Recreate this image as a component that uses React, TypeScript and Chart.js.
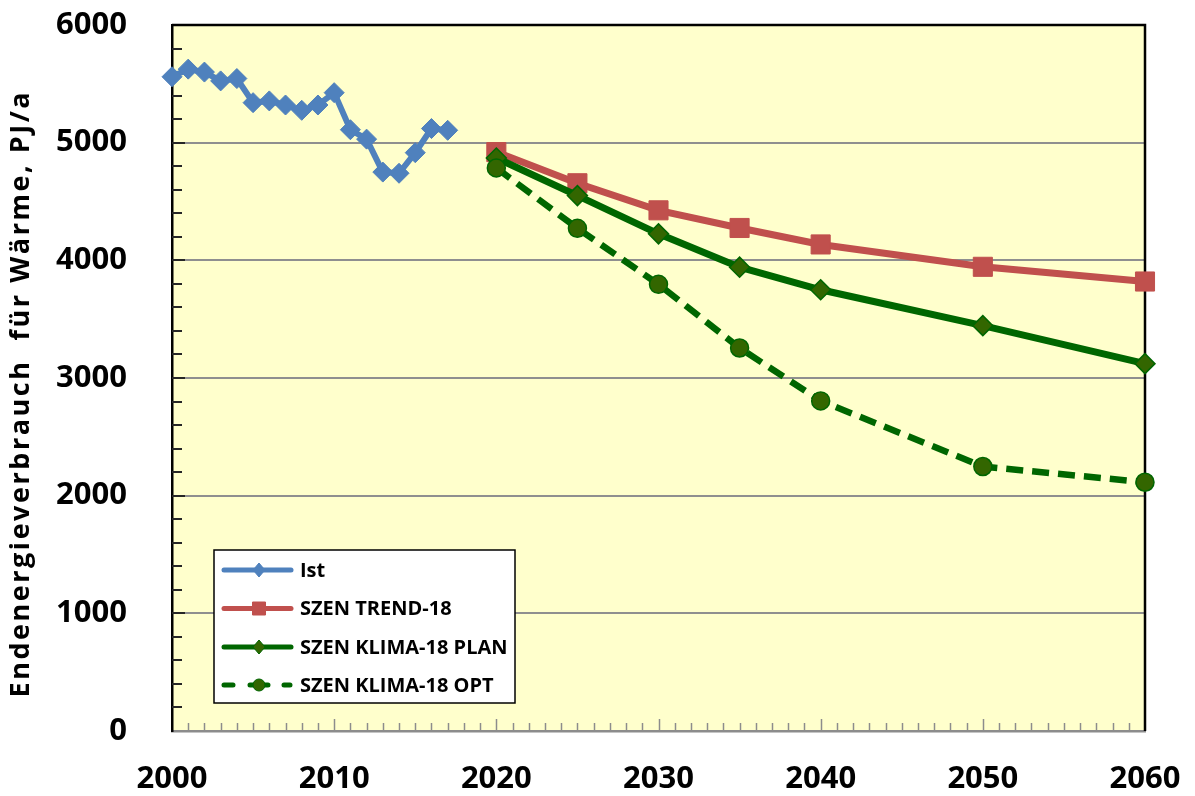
import React, { useEffect, useRef } from 'react';
import { Chart, registerables } from 'chart.js';

Chart.register(...registerables);

// ---------- data ----------
const istYears = [2000, 2001, 2002, 2003, 2004, 2005, 2006, 2007, 2008, 2009, 2010, 2011, 2012, 2013, 2014, 2015, 2016, 2017];
const istValues = [5560, 5625, 5600, 5525, 5545, 5340, 5355, 5320, 5275, 5320, 5425, 5110, 5030, 4750, 4740, 4915, 5120, 5105];
const scenarioYears = [2020, 2025, 2030, 2035, 2040, 2050, 2060];
const trendValues = [4920, 4655, 4425, 4275, 4135, 3945, 3820];
const planValues = [4870, 4550, 4225, 3942, 3750, 3445, 3122];
const optValues = [4785, 4272, 3796, 3255, 2805, 2248, 2114];
const seriesLabels = ['Ist', 'SZEN TREND-18', 'SZEN KLIMA-18 PLAN', 'SZEN KLIMA-18 OPT'];
const yAxisTitle = 'Endenergieverbrauch  für Wärme, PJ/a';
const xMin = 2000;
const xMax = 2060;
const xMajorStep = 10;
const yMin = 0;
const yMax = 6000;
const yMajorStep = 1000;
const yMinorStep = 200;

const FONT = '"Open Sans", "DejaVu Sans", sans-serif';

const toPoints = (xs: number[], ys: number[]) => xs.map((x, i) => ({ x, y: ys[i] }));

function drawMarker(ctx: CanvasRenderingContext2D, style: string, x: number, y: number, r: number, fill: string, stroke: string) {
  ctx.save();
  ctx.setLineDash([]);
  ctx.fillStyle = fill;
  ctx.strokeStyle = stroke;
  ctx.lineWidth = 1;
  ctx.beginPath();
  if (style === 'rectRot') {
    ctx.moveTo(x, y - r);
    ctx.lineTo(x + r * 0.85, y);
    ctx.lineTo(x, y + r);
    ctx.lineTo(x - r * 0.85, y);
    ctx.closePath();
  } else if (style === 'rect') {
    ctx.rect(x - r, y - r, 2 * r, 2 * r);
  } else {
    ctx.arc(x, y, r, 0, Math.PI * 2);
  }
  ctx.fill();
  ctx.stroke();
  ctx.restore();
}

const zeroPadding = (scale: any) => {
  scale.paddingTop = 0;
  scale.paddingBottom = 0;
  scale.paddingLeft = 0;
  scale.paddingRight = 0;
};

const decorPlugin = {
  id: 'decor',
  beforeDraw(chart: any) {
    const { ctx, chartArea: a, width, height } = chart;
    ctx.save();
    ctx.fillStyle = '#ffffff';
    ctx.fillRect(0, 0, width, height);
    ctx.fillStyle = '#FFFFCC';
    ctx.fillRect(a.left, a.top, a.right - a.left, a.bottom - a.top);
    ctx.restore();
  },
  beforeDatasetsDraw(chart: any) {
    const { ctx, chartArea: a, scales } = chart;
    const xs = scales.x;
    const ys = scales.y;
    ctx.save();
    // x-axis inward ticks (each year)
    ctx.strokeStyle = '#8c8c8c';
    ctx.lineWidth = 1.5;
    for (let yr = xMin + 1; yr < xMax; yr++) {
      const px = Math.round(xs.getPixelForValue(yr)) + 0.5;
      const len = yr % xMajorStep === 0 ? 12 : 8;
      ctx.beginPath();
      ctx.moveTo(px, a.bottom);
      ctx.lineTo(px, a.bottom - len);
      ctx.stroke();
    }
    // y-axis inward ticks
    ctx.strokeStyle = '#262626';
    ctx.lineWidth = 2;
    for (let v = yMin + yMinorStep; v < yMax; v += yMinorStep) {
      const py = Math.round(ys.getPixelForValue(v));
      const len = v % yMajorStep === 0 ? 13 : 10;
      ctx.beginPath();
      ctx.moveTo(a.left, py);
      ctx.lineTo(a.left + len, py);
      ctx.stroke();
    }
    // top and right frame
    ctx.strokeStyle = '#000000';
    ctx.lineWidth = 2.5;
    ctx.beginPath();
    ctx.moveTo(a.left, a.top);
    ctx.lineTo(a.right, a.top);
    ctx.lineTo(a.right, a.bottom);
    ctx.stroke();
    ctx.restore();
  },
  afterDraw(chart: any) {
    const { ctx } = chart;
    // ---- legend box ----
    const bx = 214, by = 550, bw = 301, bh = 153;
    ctx.save();
    ctx.fillStyle = '#ffffff';
    ctx.fillRect(bx, by, bw, bh);
    ctx.strokeStyle = '#000000';
    ctx.lineWidth = 1.5;
    ctx.strokeRect(bx, by, bw, bh);
    const rowY = [570, 608.5, 647, 685];
    const legendMarkerR = [7, 6.5, 7, 6];
    chart.data.datasets.forEach((ds: any, i: number) => {
      const y = rowY[i];
      ctx.save();
      ctx.strokeStyle = ds.borderColor;
      ctx.lineWidth = 5;
      ctx.lineCap = 'round';
      if (ds.borderDash && ds.borderDash.length) {
        ctx.beginPath();
        ctx.moveTo(224, y); ctx.lineTo(233, y);
        ctx.moveTo(250, y); ctx.lineTo(268, y);
        ctx.moveTo(284, y); ctx.lineTo(290, y);
        ctx.stroke();
      } else {
        ctx.beginPath();
        ctx.moveTo(224, y);
        ctx.lineTo(291, y);
        ctx.stroke();
      }
      ctx.restore();
      drawMarker(ctx, ds.pointStyle, 259, y, legendMarkerR[i], ds.pointBackgroundColor, ds.pointBorderColor);
      ctx.fillStyle = '#000000';
      ctx.font = `bold 20px ${FONT}`;
      ctx.textAlign = 'left';
      ctx.textBaseline = 'middle';
      ctx.fillText(ds.label, 300, y + 1);
    });
    ctx.restore();

    // ---- y-axis title ----
    ctx.save();
    ctx.translate(29, 395);
    ctx.rotate(-Math.PI / 2);
    ctx.font = `bold 27px ${FONT}`;
    ctx.fillStyle = '#000000';
    ctx.textBaseline = 'alphabetic';
    ctx.textAlign = 'left';
    (ctx as any).letterSpacing = '0px';
    const natural = ctx.measureText(yAxisTitle).width;
    const target = 605;
    const spacing = (target - natural) / (yAxisTitle.length - 1);
    (ctx as any).letterSpacing = `${spacing.toFixed(2)}px`;
    ctx.fillText(yAxisTitle, -target / 2, 0);
    ctx.restore();
  },
};

export default function App() {
  const canvasRef = useRef<HTMLCanvasElement | null>(null);

  useEffect(() => {
    document.body.style.margin = '0';
    const canvas = canvasRef.current;
    if (!canvas) return;
    const chart = new Chart(canvas, {
      type: 'line',
      data: {
        datasets: [
          {
            label: seriesLabels[0],
            data: toPoints(istYears, istValues),
            borderColor: '#4F81BD',
            backgroundColor: '#4F81BD',
            borderWidth: 6,
            pointStyle: 'rectRot',
            pointRadius: 10,
            pointBackgroundColor: '#4F81BD',
            pointBorderColor: '#4F81BD',
            pointBorderWidth: 1,
            clip: false,
            order: 4,
          },
          {
            label: seriesLabels[1],
            data: toPoints(scenarioYears, trendValues),
            borderColor: '#C0504D',
            backgroundColor: '#C0504D',
            borderWidth: 7,
            pointStyle: 'rect',
            pointRadius: 13.5,
            pointBackgroundColor: '#C0504D',
            pointBorderColor: '#C0504D',
            pointBorderWidth: 1,
            clip: false,
            order: 3,
          },
          {
            label: seriesLabels[2],
            data: toPoints(scenarioYears, planValues),
            borderColor: '#006600',
            backgroundColor: '#336600',
            borderWidth: 7,
            pointStyle: 'rectRot',
            pointRadius: 10,
            pointBackgroundColor: '#336600',
            pointBorderColor: '#006600',
            pointBorderWidth: 1.5,
            clip: false,
            order: 2,
          },
          {
            label: seriesLabels[3],
            data: toPoints(scenarioYears, optValues),
            borderColor: '#006600',
            backgroundColor: '#336600',
            borderWidth: 6.5,
            borderDash: [17, 9],
            pointStyle: 'circle',
            pointRadius: 9,
            pointBackgroundColor: '#336600',
            pointBorderColor: '#006600',
            pointBorderWidth: 1.5,
            clip: false,
            order: 1,
          },
        ],
      },
      options: {
        responsive: false,
        animation: false,
        devicePixelRatio: 1,
        layout: { padding: { left: 0, top: 25, right: 50, bottom: 0 } },
        plugins: {
          legend: { display: false },
          tooltip: { enabled: false },
        },
        scales: {
          x: {
            type: 'linear',
            min: xMin,
            max: xMax,
            grid: { display: false, drawTicks: false },
            border: { display: true, color: '#8c8c8c', width: 2.5 },
            ticks: {
              stepSize: xMajorStep,
              padding: 30,
              color: '#000000',
              font: { family: FONT, size: 31, weight: 'bold' },
              callback: (v: any) => String(v),
            },
            afterFit: (scale: any) => { scale.height = 65; zeroPadding(scale); },
          },
          y: {
            type: 'linear',
            min: yMin,
            max: yMax,
            grid: { color: '#8f8f8f', lineWidth: 2, drawTicks: false },
            border: { display: true, color: '#000000', width: 2.5 },
            ticks: {
              stepSize: yMajorStep,
              padding: 45,
              color: '#000000',
              font: { family: FONT, size: 31, weight: 'bold' },
              callback: (v: any) => String(v),
            },
            afterFit: (scale: any) => { scale.width = 172; zeroPadding(scale); },
          },
        },
      } as any,
      plugins: [decorPlugin],
    });
    return () => chart.destroy();
  }, []);

  return (
    <div style={{ width: 1195, height: 796, position: 'relative' }}>
      <canvas ref={canvasRef} width={1195} height={796} style={{ display: 'block' }} />
    </div>
  );
}
